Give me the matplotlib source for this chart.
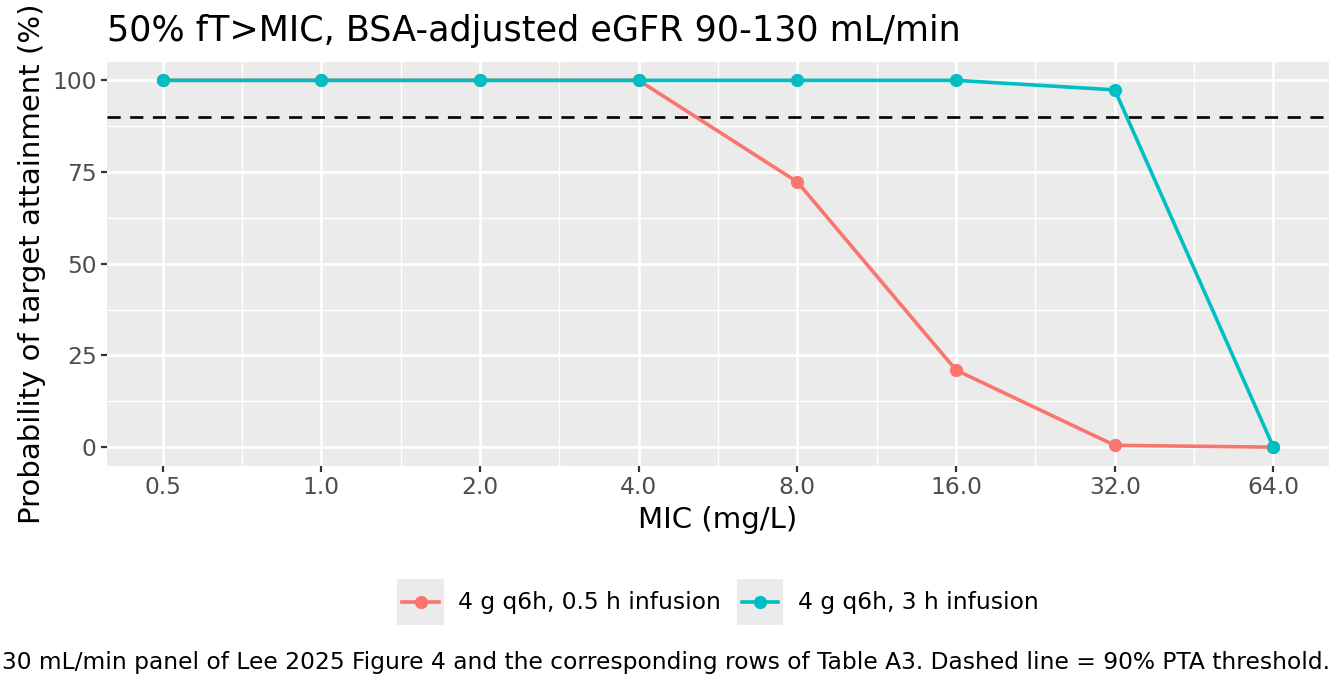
import numpy as np
import matplotlib
matplotlib.use("Agg")
import matplotlib.pyplot as plt
from matplotlib.patches import Rectangle
from matplotlib.lines import Line2D
from matplotlib.ticker import NullFormatter, FixedFormatter

mic = [0.5, 1, 2, 4, 8, 16, 32, 64]
pta_short = [100, 100, 100, 100, 72.3, 21.0, 0.5, 0.0]
pta_long = [100, 100, 100, 100, 100, 100, 97.4, 0.0]
series_labels = ["4 g q6h, 0.5 h infusion", "4 g q6h, 3 h infusion"]
colors = ["#F8766D", "#00BFC4"]
tick_labels = ["0.5", "1.0", "2.0", "4.0", "8.0", "16.0", "32.0", "64.0"]
yticks = [0, 25, 50, 75, 100]
threshold = 90

title = "50% fT>MIC, BSA-adjusted eGFR 90-130 mL/min"
caption = "30 mL/min panel of Lee 2025 Figure 4 and the corresponding rows of Table A3. Dashed line = 90% PTA threshold."

plt.rcParams['font.family'] = ['DejaVu Sans']
W, H = 1344, 691
fig = plt.figure(figsize=(W / 100, H / 100), dpi=100)

def fx(px):
    return px / W

def fy(py):
    return 1 - py / H

left, right, top, bottom = 107, 1329, 62, 465.5
ax = fig.add_axes([fx(left), fy(bottom), fx(right - left), (bottom - top) / H])
ax.set_facecolor("#EBEBEB")
for s in ax.spines.values():
    s.set_visible(False)

ax.set_xscale('log', base=2)
lo = np.log2(mic[0]) - 0.35
hi = np.log2(mic[-1]) + 0.35
ax.set_xlim(2 ** lo, 2 ** hi)
ax.set_ylim(-5, 105)

ax.set_xticks(mic)
ax.set_xticklabels(tick_labels)
minor_x = [np.sqrt(mic[i] * mic[i + 1]) for i in range(len(mic) - 1)]
ax.set_xticks(minor_x, minor=True)
ax.xaxis.set_minor_formatter(NullFormatter())
ax.set_yticks(yticks)
ax.set_yticks([12.5, 37.5, 62.5, 87.5], minor=True)
ax.yaxis.set_major_formatter(FixedFormatter([str(v) for v in yticks]))
ax.yaxis.set_minor_formatter(NullFormatter())

ax.grid(which='major', color='white', linewidth=1.9)
ax.grid(which='minor', color='white', linewidth=0.95)
ax.set_axisbelow(True)
ax.tick_params(which='minor', length=0)
ax.tick_params(which='major', length=4.5, width=1.6, color='#333333',
               labelsize=16.8, labelcolor='#4D4D4D', pad=3)

ax.axhline(threshold, color='black', linewidth=1.9, linestyle=(0, (5, 3.6)), zorder=2)

for y, c, lab in [(pta_short, colors[0], series_labels[0]), (pta_long, colors[1], series_labels[1])]:
    ax.plot(mic, y, color=c, linewidth=2.6, marker='o', markersize=8.5, label=lab, zorder=3)

ax.set_xlabel("MIC (mg/L)", fontsize=21)
ax.set_ylabel("Probability of target attainment (%)", fontsize=21)
ax.xaxis.set_label_coords((718 - left) / (right - left), (bottom - 520) / (bottom - top))
ax.yaxis.set_label_coords((32 - left) / (right - left), (bottom - 264) / (bottom - top))
ax.xaxis.label.set_va('center')
ax.yaxis.label.set_va('center')
fig.text(fx(107), fy(41), title, fontsize=25.2, ha='left', va='baseline', color='black')

# legend (ggplot style with grey key boxes)
keys = [(397, 444, 458), (737, 783, 798)]
for (x0, x1, tx), c, lab in zip(keys, colors, series_labels):
    fig.add_artist(Rectangle((fx(x0), fy(625)), fx(x1 - x0), (625 - 579) / H,
                             transform=fig.transFigure, facecolor='#EBEBEB', edgecolor='none'))
    fig.add_artist(Line2D([fx(x0 + 5), fx(x1 - 5)], [fy(602), fy(602)], transform=fig.transFigure,
                          color=c, linewidth=2.6))
    fig.add_artist(Line2D([fx((x0 + x1) / 2)], [fy(602)], transform=fig.transFigure,
                          color=c, marker='o', markersize=8.5, linestyle='none'))
    fig.text(fx(tx), fy(603), lab, fontsize=16.8, va='center', ha='left', color='black')

fig.text(fx(1330), fy(663), caption, fontsize=16.8, va='center', ha='right', color='black')

fig.savefig("out.png", dpi=100)
